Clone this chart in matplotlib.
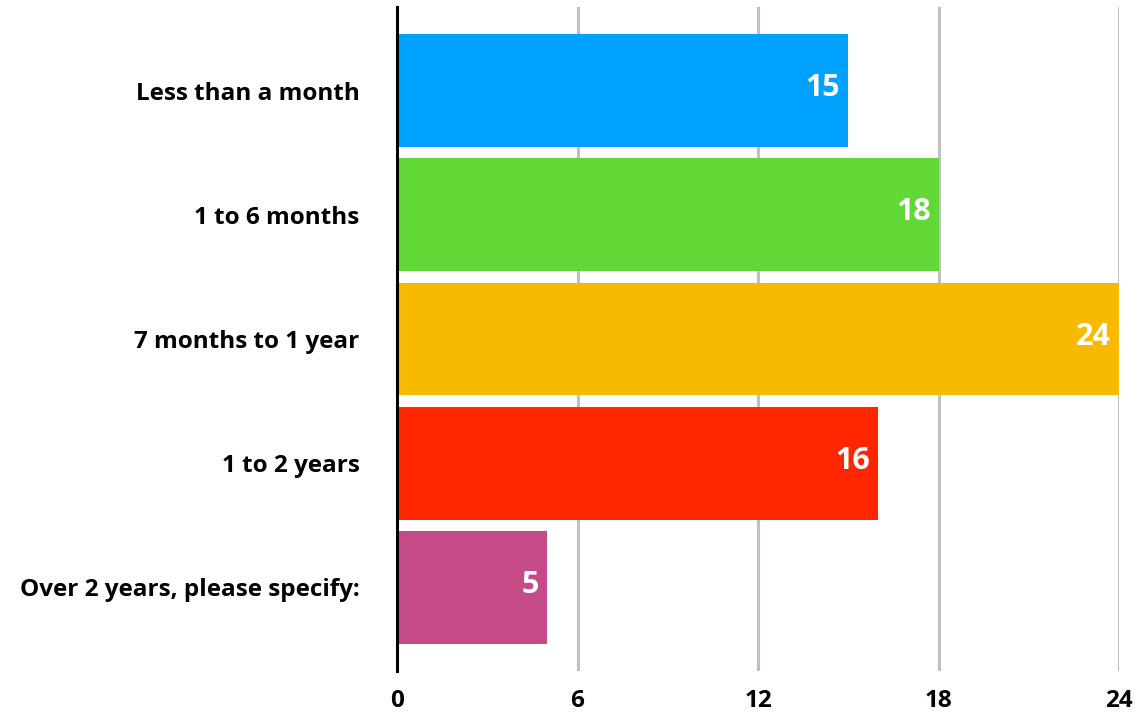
import matplotlib
matplotlib.use("Agg")
import matplotlib.pyplot as plt

categories = ["Less than a month", "1 to 6 months", "7 months to 1 year", "1 to 2 years", "Over 2 years, please specify:"]
values = [15, 18, 24, 16, 5]
colors = ["#00A2FF", "#61D836", "#F8BA00", "#FF2600", "#C44B86"]
xticks = [0, 6, 12, 18, 24]

plt.rcParams['font.family'] = ['Open Sans', 'DejaVu Sans']

fig = plt.figure(figsize=(11.4, 7.13), dpi=100)
ax = fig.add_axes([397/1140, 1 - 671/713, (1119-397)/1140, (671-7)/713])

ypos = list(range(len(categories)))
ax.barh(ypos, values, height=0.91, color=colors, zorder=3)
for y, v in zip(ypos, values):
    ax.text(v - 0.27, y - 0.02, str(v), ha='right', va='center', color='white',
            fontsize=22, fontweight='bold', zorder=4)

ax.set_xlim(0, 24)
ax.set_ylim(4.675, -0.675)
ax.set_xticks(xticks)
ax.set_xticklabels([str(t) for t in xticks], fontsize=17.5, fontweight='bold')
ax.set_yticks(ypos)
ax.set_yticklabels(categories, fontsize=17.5, fontweight='bold')
ax.tick_params(axis='x', length=0, pad=13)
ax.tick_params(axis='y', length=0, pad=27)
ax.xaxis.grid(True, color='#C0C0C0', linewidth=2.2, zorder=1)
for s in ['top', 'right', 'bottom']:
    ax.spines[s].set_visible(False)
ax.spines['left'].set_linewidth(2.2)
ax.spines['left'].set_color('black')
ax.spines['left'].set_zorder(5)

fig.savefig("out.png", dpi=100)
